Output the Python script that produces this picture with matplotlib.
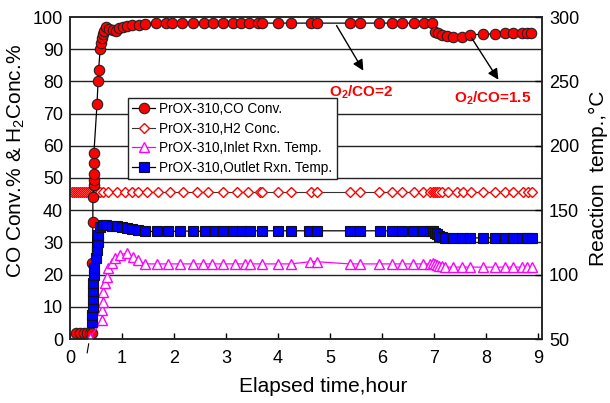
import matplotlib
matplotlib.use("Agg")
import matplotlib.pyplot as plt
import numpy as np

plt.rcParams['font.family'] = ['Liberation Sans', 'DejaVu Sans']
plt.rcParams['mathtext.fontset'] = 'custom'
plt.rcParams['mathtext.rm'] = 'Liberation Sans'
plt.rcParams['mathtext.it'] = 'Liberation Sans'
plt.rcParams['mathtext.bf'] = 'Liberation Sans:bold'

# ---------------- data ----------------
co_t = [0.12, 0.2, 0.27, 0.33, 0.38, 0.42, 0.43, 0.44, 0.44, 0.46, 0.46, 0.46, 0.46, 0.46,
        0.52, 0.54, 0.55, 0.58, 0.6, 0.62, 0.64, 0.65, 0.69, 0.75, 0.83, 0.88, 0.94, 1.02,
        1.1, 1.19, 1.33, 1.44, 1.65, 1.85, 1.96, 2.15, 2.37, 2.58, 2.75, 2.94, 3.13, 3.29,
        3.44, 3.62, 3.69, 4.0, 4.25, 4.63, 4.75, 5.38, 5.58, 5.94, 6.19, 6.38, 6.62, 6.81,
        6.96, 7.02, 7.08, 7.15, 7.25, 7.37, 7.54, 7.69, 7.94, 8.17, 8.37, 8.52, 8.69, 8.79, 8.87]
co_conv = [1.9, 1.9, 1.9, 1.9, 1.9, 1.9, 23.6, 36.3, 44.1, 47.8, 49.4, 51.2, 54.7, 57.8,
           73.0, 80.1, 83.5, 90.0, 91.9, 93.5, 94.7, 95.7, 96.9, 96.3, 96.0, 95.7, 96.6, 96.9,
           97.2, 97.5, 97.5, 97.8, 98.1, 98.1, 98.1, 98.1, 98.1, 98.1, 98.1, 98.1, 98.1, 98.1,
           98.1, 98.1, 98.1, 98.1, 98.1, 98.1, 98.1, 98.1, 98.1, 98.1, 98.1, 98.1, 98.1, 98.1,
           98.1, 95.3, 95.0, 94.4, 94.1, 93.8, 93.8, 94.4, 94.7, 94.7, 95.0, 95.0, 95.0, 95.0, 95.0]

h2_t = [0.04, 0.08, 0.12, 0.16, 0.2, 0.23, 0.27, 0.31, 0.35, 0.38, 0.42, 0.46, 0.5, 0.54,
        0.58, 0.63, 0.73, 0.9, 1.06, 1.19, 1.31, 1.48, 1.69, 1.92, 2.17, 2.44, 2.65, 2.94,
        3.21, 3.42, 3.65, 3.69, 4.0, 4.25, 4.63, 4.75, 5.38, 5.58, 5.94, 6.19, 6.38, 6.62,
        6.79, 6.92, 6.98, 7.02, 7.06, 7.1, 7.15, 7.27, 7.44, 7.56, 7.71, 7.94, 8.17, 8.37,
        8.52, 8.71, 8.81, 8.88]
h2_conc = [45.8] * len(h2_t)

inlet_t = [0.38, 0.62, 0.62, 0.63, 0.63, 0.67, 0.71, 0.73, 0.81, 0.87, 0.96, 1.1, 1.21,
           1.31, 1.44, 1.67, 1.88, 2.12, 2.37, 2.56, 2.73, 2.94, 3.17, 3.37, 3.46, 3.69,
           4.0, 4.25, 4.62, 4.75, 5.38, 5.58, 5.94, 6.19, 6.38, 6.6, 6.79, 6.92, 6.98, 7.02,
           7.06, 7.1, 7.15, 7.21, 7.37, 7.54, 7.69, 7.94, 8.17, 8.37, 8.52, 8.69, 8.79, 8.88]
inlet_temp = [50.8, 64.8, 72.5, 78.8, 86.5, 93.5, 98.3, 105.0, 109.0, 113.0, 115.3, 116.8,
              113.8, 111.3, 108.3, 108.3, 108.3, 108.3, 108.3, 108.3, 108.3, 108.3, 108.3,
              108.3, 108.3, 108.3, 108.3, 108.3, 110.0, 110.0, 108.3, 108.3, 108.3, 108.3,
              108.3, 108.3, 108.3, 108.3, 109.0, 108.3, 107.5, 107.0, 106.5, 105.8, 105.8,
              105.8, 105.8, 105.8, 105.8, 105.8, 105.8, 105.8, 105.8, 105.8]

outlet_t = [0.43, 0.43, 0.44, 0.44, 0.45, 0.45, 0.46, 0.47, 0.5, 0.52, 0.53, 0.54, 0.58,
            0.63, 0.7, 0.8, 0.9, 1.0, 1.1, 1.2, 1.31, 1.44, 1.67, 1.88, 2.12, 2.37, 2.6,
            2.79, 2.94, 3.13, 3.31, 3.46, 3.69, 4.0, 4.25, 4.6, 4.75, 5.38, 5.58, 5.96, 6.19,
            6.38, 6.6, 6.79, 6.92, 6.98, 7.02, 7.06, 7.1, 7.15, 7.21, 7.37, 7.54, 7.69, 7.94,
            8.17, 8.37, 8.52, 8.69, 8.79, 8.88]
outlet_temp = [63.3, 68.8, 75.0, 81.3, 87.5, 93.8, 100.0, 105.0, 113.0, 119.0, 125.3, 130.8,
               137.0, 138.8, 138.8, 137.5, 137.5, 137.0, 136.3, 135.5, 134.5, 133.5, 133.5,
               133.5, 133.8, 133.8, 133.5, 133.5, 133.8, 133.5, 133.8, 134.0, 134.0, 134.0,
               134.0, 134.0, 134.0, 134.0, 134.0, 134.0, 134.0, 134.0, 134.0, 134.0, 134.0,
               133.8, 132.5, 131.3, 130.0, 129.0, 128.5, 128.5, 128.5, 128.5, 128.5, 128.5,
               128.5, 128.5, 128.5, 128.5, 128.5]

labels = ["PrOX-310,CO Conv.", "PrOX-310,H2 Conc.",
          "PrOX-310,Inlet Rxn. Temp.", "PrOX-310,Outlet Rxn. Temp."]
x_ticks = list(range(0, 10))
left_ticks = list(range(0, 101, 10))
right_ticks = list(range(50, 301, 50))

# ---------------- figure ----------------
fig = plt.figure(figsize=(6.10, 4.03), dpi=100)
ax = fig.add_axes([70/610, 64/403, 472/610, 322/403])
ax2 = ax.twinx()

ax.set_xlim(0, 9.08)
ax.set_ylim(0, 100)
ax2.set_ylim(50, 300)

for yv in left_ticks[1:-1]:
    ax.axhline(yv, color='#222222', lw=1.0, zorder=0)

l1, = ax.plot(co_t, co_conv, color='black', lw=0.9, marker='o', ms=7.5,
              mfc='#ff0000', mec='#222222', mew=0.8, zorder=3)
l2, = ax.plot(h2_t, h2_conc, color='#333333', lw=0.8, marker='D', ms=5.5,
              mfc='white', mec='#ff0000', mew=1.0, zorder=2)
l3, = ax2.plot(inlet_t, inlet_temp, color='#ff00ff', lw=0.9, marker='^', ms=7.5,
               mfc='white', mec='#ff00ff', mew=1.0, zorder=2)
l4, = ax2.plot(outlet_t, outlet_temp, color='black', lw=0.9, marker='s', ms=7.5,
               mfc='#0000ff', mec='#111111', mew=0.8, zorder=3)

ax.set_xticks(x_ticks)
ax.set_yticks(left_ticks)
ax2.set_yticks(right_ticks)
ax.tick_params(axis='x', direction='in', length=4, width=1, labelsize=13, pad=8)
ax.tick_params(axis='y', direction='in', length=0, labelsize=13, pad=5)
ax2.tick_params(axis='y', direction='in', length=5, width=1, labelsize=13, pad=5)
for a in (ax, ax2):
    for s in a.spines.values():
        s.set_linewidth(1.1)
        s.set_color('#222222')

ax.set_xlabel('Elapsed time,hour', fontsize=15, x=0.536, labelpad=7)
ax.set_ylabel(r'CO Conv.% & H$_2$Conc.%', fontsize=15, y=0.553, labelpad=4)
ax2.set_ylabel('Reaction  temp.,°C', fontsize=15, labelpad=7)

# annotations
ax.annotate('', xy=(5.67, 82.6), xytext=(5.1, 98.1),
            arrowprops=dict(arrowstyle='-|>', color='black', lw=1.0, mutation_scale=16))
ax.annotate('', xy=(8.27, 79.8), xytext=(7.69, 94.4),
            arrowprops=dict(arrowstyle='-|>', color='black', lw=1.0, mutation_scale=16))
ax.text(5.6, 76.7, r'O$_\mathbf{2}$/CO=2', color='#ff0000', fontsize=11,
        fontweight='bold', ha='center', va='center')
ax.text(8.13, 74.8, r'O$_\mathbf{2}$/CO=1.5', color='#ff0000', fontsize=11,
        fontweight='bold', ha='center', va='center')
ax.plot([0.36, 0.33], [-1.5, -4.3], color='black', lw=0.8, clip_on=False)

leg = ax2.legend([l1, l2, l3, l4], labels, loc='upper left',
                 bbox_to_anchor=(0.123, 0.748), fontsize=9.8, frameon=True,
                 fancybox=False, edgecolor='#222222', framealpha=1,
                 handlelength=1.7, handletextpad=0.3, borderpad=0.3,
                 labelspacing=0.4, borderaxespad=0)
leg.get_frame().set_linewidth(1.0)

fig.savefig('out.png', dpi=100)
